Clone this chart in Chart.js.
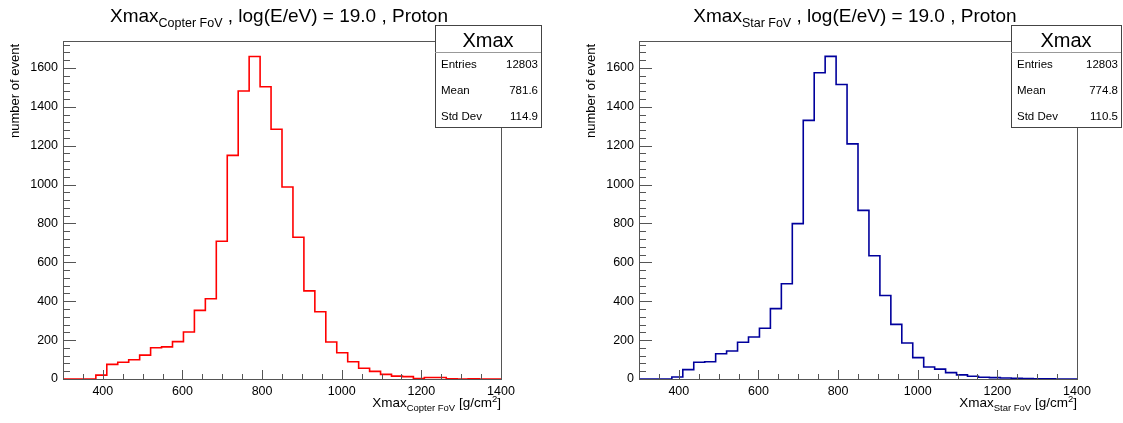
<!DOCTYPE html>
<html><head><meta charset="utf-8">
<script src="https://cdn.jsdelivr.net/npm/chart.js@4.4.1/dist/chart.umd.min.js"></script>
<style>
html,body{margin:0;padding:0;background:#fff;}
#wrap{position:relative;width:1123px;height:423px;overflow:hidden;}
canvas{position:absolute;top:0;}
</style></head><body>
<div id="wrap">
<canvas id="c1" width="562" height="423" style="left:0px;width:562px;height:423px"></canvas>
<canvas id="c2" width="561" height="423" style="left:562px;width:561px;height:423px"></canvas>
</div>
<script>
const binEdges = [300,327.5,355,382.5,410,437.5,465,492.5,520,547.5,575,602.5,630,657.5,685,712.5,740,767.5,795,822.5,850,877.5,905,932.5,960,987.5,1015,1042.5,1070,1097.5,1125,1152.5,1180,1207.5,1235,1262.5,1290,1317.5,1345,1372.5,1400];
const copterCounts = [0,0,0,20,75,86,99,123,161,165,192,242,353,413,708,1150,1481,1658,1503,1284,987,729,453,346,190,135,89,55,39,24,15,12,2,8,8,1,0,1,0,0];
const starCounts = [0,0,0,10,48,86,89,130,144,189,216,261,362,490,799,1330,1575,1659,1514,1209,867,634,429,281,185,110,62,51,33,21,14,9,7,5,3,2,1,1,0,0];
const xTickLabels = [400,600,800,1000,1200,1400];
const yTickLabels = [0,200,400,600,800,1000,1200,1400,1600];
const statsLabels = ['Entries','Mean','Std Dev'];
const copterStats = ['12803','781.6','114.9'];
const starStats = ['12803','774.8','110.5'];
const statsTitle = 'Xmax';
const yAxisTitle = 'number of event';

const FONT = '"Liberation Sans", Arial, Helvetica, sans-serif';

function drawRich(ctx, parts, x, y, align) {
  let w = 0;
  parts.forEach(p => { ctx.font = p.s + 'px ' + FONT; p.w = ctx.measureText(p.t).width; w += p.w; });
  let cx = align === 'center' ? x - w / 2 : (align === 'right' ? x - w : x);
  ctx.textAlign = 'left'; ctx.textBaseline = 'alphabetic'; ctx.fillStyle = '#000';
  parts.forEach(p => { ctx.font = p.s + 'px ' + FONT; ctx.fillText(p.t, cx, y + (p.dy || 0)); cx += p.w; });
}

function makeChart(id, counts, color, sub, stats, lay) {
  const data = binEdges.map((x, i) => ({x: x, y: counts[Math.min(i, counts.length - 1)]}));
  const deco = {
    id: 'deco',
    afterDraw(chart) {
      const ctx = chart.ctx, a = chart.chartArea, xs = chart.scales.x, ys = chart.scales.y;
      ctx.save();
      ctx.strokeStyle = '#555'; ctx.lineWidth = 1;
      ctx.strokeRect(Math.round(a.left) + 0.5, Math.round(a.top) + 0.5, Math.round(a.right - a.left), Math.round(a.bottom - a.top));
      ctx.beginPath();
      for (let v = 0; v <= ys.max; v += 40) {
        const py = Math.round(ys.getPixelForValue(v)) + 0.5;
        const len = (v % 200 === 0) ? 13 : 7;
        ctx.moveTo(a.left, py); ctx.lineTo(a.left + len, py);
      }
      for (let v = 350; v < 1400; v += 50) {
        const px = Math.round(xs.getPixelForValue(v)) + 0.5;
        const len = (v % 200 === 0) ? 9 : 5;
        ctx.moveTo(px, a.bottom); ctx.lineTo(px, a.bottom - len);
      }
      ctx.stroke();
      // y axis title
      ctx.save();
      ctx.translate(lay.yTitleX, 44);
      ctx.rotate(-Math.PI / 2);
      ctx.fillStyle = '#000'; ctx.font = '13px ' + FONT; ctx.textAlign = 'right'; ctx.textBaseline = 'alphabetic';
      ctx.fillText(yAxisTitle, 0, 0);
      ctx.restore();
      // main title
      drawRich(ctx, [{t: 'Xmax', s: 19}, {t: sub, s: 12.5, dy: 5}, {t: ' , log(E/eV) = 19.0 , Proton', s: 19}], lay.titleX, 22, 'center');
      // x axis title
      drawRich(ctx, [{t: 'Xmax', s: 13.5}, {t: sub, s: 9.5, dy: 4}, {t: ' [g/cm', s: 13.5}, {t: '2', s: 9.5, dy: -5}, {t: ']', s: 13.5}], a.right, 407, 'right');
      // stats box
      const b = lay.box;
      ctx.fillStyle = '#fff';
      ctx.fillRect(b.l, b.t, b.r - b.l, b.b - b.t);
      ctx.strokeStyle = '#444';
      ctx.strokeRect(b.l + 0.5, b.t + 0.5, b.r - b.l, b.b - b.t);
      ctx.beginPath(); ctx.moveTo(b.l, b.t + 27.5); ctx.lineTo(b.r, b.t + 27.5); ctx.strokeStyle = '#999'; ctx.stroke();
      ctx.fillStyle = '#000';
      ctx.font = '20px ' + FONT; ctx.textAlign = 'center'; ctx.textBaseline = 'alphabetic';
      ctx.fillText(statsTitle, (b.l + b.r) / 2, b.t + 22);
      ctx.font = '11.5px ' + FONT;
      statsLabels.forEach((lab, i) => {
        const yy = b.t + 43 + i * 26;
        ctx.textAlign = 'left'; ctx.fillText(lab, b.l + 6, yy);
        ctx.textAlign = 'right'; ctx.fillText(stats[i], b.r - 3, yy);
      });
      ctx.restore();
    }
  };
  return new Chart(document.getElementById(id), {
    type: 'line',
    data: {datasets: [{data: data, stepped: true, borderColor: color, borderWidth: 1.6, pointRadius: 0, fill: false, tension: 0}]},
    options: {
      responsive: false, animation: false, devicePixelRatio: 1,
      layout: {padding: {left: 0, right: lay.padRight, top: 41, bottom: 0}},
      plugins: {legend: {display: false}, tooltip: {enabled: false}, title: {display: false}},
      scales: {
        x: {type: 'linear', min: 300, max: 1400,
            afterFit(s) { s.height = 44; },
            grid: {display: false, drawTicks: false}, border: {display: false},
            ticks: {stepSize: 200, includeBounds: false, autoSkip: false, maxRotation: 0, padding: 5, color: '#000',
                    font: {family: FONT, size: 12.5},
                    callback: v => xTickLabels.includes(v) ? String(v) : ''}},
        y: {type: 'linear', min: 0, max: 1738,
            afterFit(s) { s.width = lay.left; },
            grid: {display: false, drawTicks: false}, border: {display: false},
            title: {display: false},
            ticks: {stepSize: 200, includeBounds: false, autoSkip: false, padding: 5, color: '#000',
                    font: {family: FONT, size: 12.5},
                    callback: v => yTickLabels.includes(v) ? String(v) : ''}}
      }
    },
    plugins: [deco]
  });
}

makeChart('c1', copterCounts, '#ff0000', 'Copter FoV', copterStats,
  {left: 63, padRight: 562 - 501, titleX: 279, yTitleX: 19, box: {l: 435, r: 541, t: 25, b: 127}});
makeChart('c2', starCounts, '#00009c', 'Star FoV', starStats,
  {left: 77, padRight: 561 - 515, titleX: 293, yTitleX: 33, box: {l: 449, r: 559, t: 25, b: 127}});
</script>
</body></html>
